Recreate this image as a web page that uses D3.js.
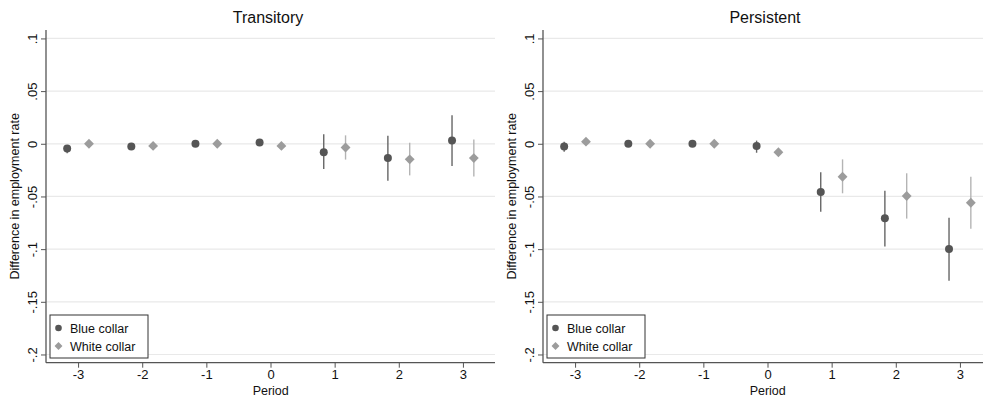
<!DOCTYPE html>
<html>
<head>
<meta charset="utf-8">
<script src="https://cdn.jsdelivr.net/npm/d3@7"></script>
<style>
  body { margin: 0; background: #fff; }
  text { font-family: "Liberation Sans", Arial, sans-serif; fill: #111; }
</style>
</head>
<body>
<script>
// periods on the x axis
const periods = [-3, -2, -1, 0, 1, 2, 3];
const periodLabels = ['-3', '-2', '-1', '0', '1', '2', '3'];
const yTicks = [0.1, 0.05, 0, -0.05, -0.1, -0.15, -0.2];
const yTickLabels = ['.1', '.05', '0', '-.05', '-.1', '-.15', '-.2'];

// Transitory panel
const transBlue   = [-0.0044, -0.0025, 0.0, 0.0013, -0.008, -0.0136, 0.003];
const transBlueLo = [-0.009, -0.0035, -0.001, -0.0005, -0.024, -0.035, -0.021];
const transBlueHi = [-0.0015, -0.0015, 0.001, 0.003, 0.009, 0.0076, 0.027];
const transWhite   = [0.0, -0.002, 0.0, -0.002, -0.0035, -0.0148, -0.0136];
const transWhiteLo = [-0.001, -0.003, -0.001, -0.003, -0.015, -0.030, -0.031];
const transWhiteHi = [0.001, -0.001, 0.001, -0.001, 0.008, 0.001, 0.004];

// Persistent panel
const persBlue   = [-0.0025, 0.0, 0.0, -0.002, -0.0458, -0.0708, -0.0999];
const persBlueLo = [-0.0076, -0.001, -0.001, -0.0085, -0.0645, -0.0974, -0.130];
const persBlueHi = [0.002, 0.001, 0.001, 0.003, -0.027, -0.0446, -0.0702];
const persWhite   = [0.002, 0.0, 0.0, -0.008, -0.0313, -0.0496, -0.056];
const persWhiteLo = [0.001, -0.001, -0.001, -0.009, -0.047, -0.071, -0.0806];
const persWhiteHi = [0.003, 0.001, 0.001, -0.007, -0.0148, -0.028, -0.0313];

const W = 983, H = 399;
const svg = d3.select('body').append('svg')
  .attr('width', W)
  .attr('height', H);

const blueCol = '#555555', blueCi = '#666666';
const whiteCol = '#9c9c9c', whiteCi = '#b4b4b4';
const fontFam = '"Liberation Sans", Arial, sans-serif';

const drawPanel = (left, title, blue, blueLo, blueHi, white, whiteLo, whiteHi) => {
  const plotW = 449;
  const top = 30, bottom = 362.7;

  const x = d3.scaleLinear().domain([-3.5, 3.5]).range([left, left + plotW]);
  const y = d3.scaleLinear().domain([0.108, -0.2078]).range([top, bottom]);

  const g = svg.append('g');

  //horizontal gridlines
  g.selectAll('.grid')
    .data(yTicks)
    .enter()
    .append('line')
    .attr('x1', left)
    .attr('x2', left + plotW)
    .attr('y1', (d) => y(d))
    .attr('y2', (d) => y(d))
    .attr('stroke', '#e9e9e9')
    .attr('stroke-width', 1.2);

  //y axis
  const yAxis = g.append('g')
    .attr('transform', `translate(${left},0)`)
    .call(d3.axisLeft(y).tickValues(yTicks).tickSize(5).tickFormat((d, i) => yTickLabels[i]));
  yAxis.select('.domain').attr('stroke', '#555').attr('stroke-width', 1.3)
    .attr('d', `M0,${top}V${bottom}`);
  yAxis.selectAll('.tick line').attr('stroke', '#555');
  yAxis.selectAll('.tick text')
    .attr('transform', 'rotate(-90)')
    .attr('x', 0)
    .attr('y', -9)
    .attr('dy', 0)
    .attr('fill', '#111')
    .style('text-anchor', 'middle')
    .style('font-size', '13px')
    .style('font-family', fontFam);

  //x axis
  const xAxis = g.append('g')
    .attr('transform', `translate(0,${bottom})`)
    .call(d3.axisBottom(x).tickValues(periods).tickSize(5).tickFormat((d, i) => periodLabels[i]));
  xAxis.select('.domain').attr('stroke', '#555').attr('stroke-width', 1.3)
    .attr('d', `M${left},0H${left + plotW}`);
  xAxis.selectAll('.tick line').attr('stroke', '#555');
  xAxis.selectAll('.tick text')
    .attr('y', 7)
    .attr('fill', '#111')
    .style('font-size', '13px')
    .style('font-family', fontFam);

  //titles
  g.append('text')
    .attr('x', left + 222)
    .attr('y', 23)
    .attr('text-anchor', 'middle')
    .style('font-size', '16px')
    .text(title);

  g.append('text')
    .attr('x', left + 224.7)
    .attr('y', 395)
    .attr('text-anchor', 'middle')
    .style('font-size', '12.5px')
    .text('Period');

  g.append('text')
    .attr('transform', `translate(${left - 27},${(top + bottom) / 2}) rotate(-90)`)
    .attr('text-anchor', 'middle')
    .style('font-size', '12.5px')
    .text('Difference in employment rate');

  //confidence intervals
  const blueData = periods.map((p, i) => ({ p: p - 0.17, v: blue[i], lo: blueLo[i], hi: blueHi[i] }));
  const whiteData = periods.map((p, i) => ({ p: p + 0.17, v: white[i], lo: whiteLo[i], hi: whiteHi[i] }));

  g.selectAll('.ciw')
    .data(whiteData)
    .enter()
    .append('line')
    .attr('x1', (d) => x(d.p))
    .attr('x2', (d) => x(d.p))
    .attr('y1', (d) => y(d.lo))
    .attr('y2', (d) => y(d.hi))
    .attr('stroke', whiteCi)
    .attr('stroke-width', 1.4);

  g.selectAll('.cib')
    .data(blueData)
    .enter()
    .append('line')
    .attr('x1', (d) => x(d.p))
    .attr('x2', (d) => x(d.p))
    .attr('y1', (d) => y(d.lo))
    .attr('y2', (d) => y(d.hi))
    .attr('stroke', blueCi)
    .attr('stroke-width', 1.4);

  //markers
  g.selectAll('.mb')
    .data(blueData)
    .enter()
    .append('circle')
    .attr('cx', (d) => x(d.p))
    .attr('cy', (d) => y(d.v))
    .attr('r', 4)
    .attr('fill', blueCol);

  const diamond = d3.symbol().type(d3.symbolDiamond2).size(62);
  g.selectAll('.mw')
    .data(whiteData)
    .enter()
    .append('path')
    .attr('d', diamond)
    .attr('transform', (d) => `translate(${x(d.p)},${y(d.v)})`)
    .attr('fill', whiteCol);

  //legend
  const lg = g.append('g').attr('transform', `translate(${left + 4},315)`);
  lg.append('rect')
    .attr('width', 98)
    .attr('height', 43)
    .attr('fill', '#fff')
    .attr('stroke', '#333')
    .attr('stroke-width', 1);
  lg.append('circle').attr('cx', 8.5).attr('cy', 13).attr('r', 3.3).attr('fill', blueCol);
  lg.append('path')
    .attr('d', d3.symbol().type(d3.symbolDiamond2).size(40))
    .attr('transform', 'translate(8.5,31)')
    .attr('fill', whiteCol);
  lg.append('text').attr('x', 20).attr('y', 17.5).style('font-size', '12.5px').text('Blue collar');
  lg.append('text').attr('x', 20).attr('y', 35.5).style('font-size', '12.5px').text('White collar');
};

drawPanel(46, 'Transitory', transBlue, transBlueLo, transBlueHi, transWhite, transWhiteLo, transWhiteHi);
drawPanel(543, 'Persistent', persBlue, persBlueLo, persBlueHi, persWhite, persWhiteLo, persWhiteHi);
</script>
</body>
</html>
